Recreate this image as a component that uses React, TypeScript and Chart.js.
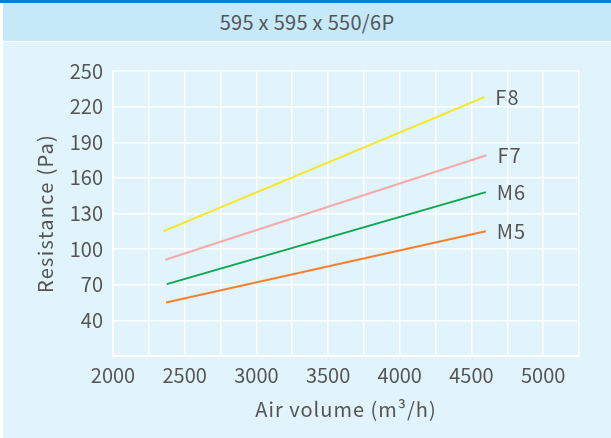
import React, { useEffect, useRef } from "react";
import { Chart, registerables } from "chart.js";

Chart.register(...registerables);

const titleText = "595 x 595 x 550/6P";
const xAxisTitle = "Air volume (m³/h)";
const yAxisTitle = "Resistance (Pa)";

const seriesNames = ["F8", "F7", "M6", "M5"];
const seriesColors = ["#f6e71e", "#f5aaa9", "#0ca651", "#f5802f"];
const airVolumeF8 = [2350, 4590];
const resistanceF8 = [115, 228];
const airVolumeF7 = [2365, 4605];
const resistanceF7 = [91, 179];
const airVolumeM6 = [2375, 4600];
const resistanceM6 = [70.5, 148];
const airVolumeM5 = [2370, 4600];
const resistanceM5 = [55, 115];

const xMin = 2000;
const xMax = 5250;
const xStep = 250;
const xLabelEvery = 500;
const yMin = 10;
const yMax = 250;
const yStep = 30;

const FONT = "'Noto Sans CJK SC', 'Noto Sans', sans-serif";
const TEXT = "#555555";

export default function App() {
  const ref = useRef<HTMLCanvasElement | null>(null);

  useEffect(() => {
    document.body.style.margin = "0";
    const xs = [airVolumeF8, airVolumeF7, airVolumeM6, airVolumeM5];
    const ys = [resistanceF8, resistanceF7, resistanceM6, resistanceM5];
    const datasets = seriesNames.map((name, i) => ({
      label: name,
      data: xs[i].map((x, j) => ({ x, y: ys[i][j] })),
      borderColor: seriesColors[i],
      backgroundColor: seriesColors[i],
      borderWidth: 2,
      pointRadius: 0,
      tension: 0,
      fill: false,
    }));

    const labelsPlugin = {
      id: "labelsPlugin",
      afterDatasetsDraw(chart: any) {
        const ctx = chart.ctx;
        ctx.save();
        ctx.fillStyle = TEXT;
        ctx.font = `20px ${FONT}`;
        ctx.textAlign = "left";
        ctx.textBaseline = "middle";
        (ctx as any).letterSpacing = "1px";
        chart.data.datasets.forEach((ds: any, i: number) => {
          const meta = chart.getDatasetMeta(i);
          const pt = meta.data[meta.data.length - 1];
          ctx.fillText(ds.label, pt.x + 11, pt.y);
        });
        const ca = chart.chartArea;
        ctx.textAlign = "center";
        ctx.fillText(xAxisTitle, (ca.left + ca.right) / 2, 367);
        ctx.translate(42, (ca.top + ca.bottom) / 2);
        ctx.rotate(-Math.PI / 2);
        (ctx as any).letterSpacing = "1.3px";
        ctx.fillText(yAxisTitle, 0, 0);
        ctx.restore();
      },
    };

    const chart = new Chart(ref.current as HTMLCanvasElement, {
      type: "line",
      data: { datasets },
      options: {
        animation: false,
        responsive: false,
        maintainAspectRatio: false,
        layout: { padding: { top: 29, right: 32, left: 0, bottom: 0 } },
        plugins: { legend: { display: false }, tooltip: { enabled: false } },
        scales: {
          x: {
            type: "linear",
            min: xMin,
            max: xMax,
            afterFit(scale: any) {
              scale.height = 82;
            },
            grid: { color: "#ffffff", lineWidth: 1.5, drawTicks: false },
            border: { color: "#ffffff", width: 2 },
            ticks: {
              stepSize: xStep,
              autoSkip: false,
              maxRotation: 0,
              padding: 7,
              color: TEXT,
              font: { family: FONT, size: 20 },
              callback: (v: any) => (Number(v) % xLabelEvery === 0 ? String(v) : ""),
            },
          },
          y: {
            type: "linear",
            min: yMin,
            max: yMax,
            afterFit(scale: any) {
              scale.width = 110;
            },
            grid: { color: "#ffffff", lineWidth: 1.5, drawTicks: false },
            border: { color: "#ffffff", width: 2 },
            ticks: {
              stepSize: yStep,
              autoSkip: false,
              padding: 10,
              color: TEXT,
              font: { family: FONT, size: 20 },
              callback: (v: any) => (Number(v) === yMin ? "" : String(v)),
            },
          },
        },
      },
      plugins: [labelsPlugin],
    } as any);
    return () => chart.destroy();
  }, []);

  return (
    <div style={{ position: "fixed", left: 0, top: 0, width: 611, height: 438, background: "#ffffff", overflow: "hidden" }}>
      <div style={{ position: "absolute", left: 0, top: 0, width: 611, height: 3, background: "#0b80c9" }} />
      <div
        style={{
          position: "absolute",
          left: 3,
          top: 3,
          width: 608,
          height: 38,
          background: "#c5e9f9",
          color: TEXT,
          fontFamily: FONT,
          fontSize: 20,
          lineHeight: "38px",
          letterSpacing: "0.3px",
          textAlign: "center",
        }}
      >
        {titleText}
      </div>
      <div style={{ position: "absolute", left: 3, top: 42, width: 608, height: 396, background: "#e1f3fb" }}>
        <canvas ref={ref} width={608} height={396} style={{ display: "block", width: 608, height: 396 }} />
      </div>
    </div>
  );
}
